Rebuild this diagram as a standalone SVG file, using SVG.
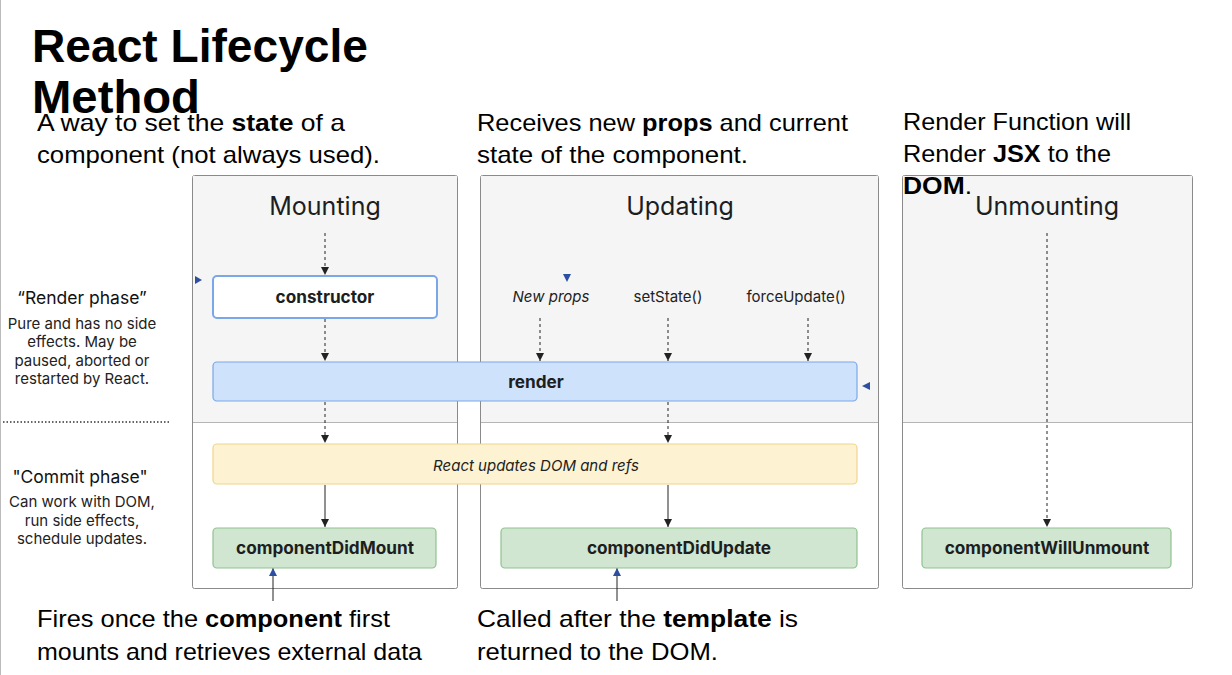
<svg xmlns="http://www.w3.org/2000/svg" width="1232" height="675" viewBox="0 0 1232 675">
<defs>
<style>
.slide{font-family:"Liberation Sans",Arial,sans-serif;fill:#000}
.title{font-size:47px;font-weight:bold}
.body{font-size:24px}
.b{font-weight:bold}
.ui{font-family:Inter,"Noto Sans",sans-serif;fill:#1c1e21}
.hdr{font-size:25px;text-anchor:middle}
.node{font-size:17.2px;font-weight:bold;text-anchor:middle}
.lbl{font-size:15px;text-anchor:middle;fill:#222}
.side{font-size:15px;text-anchor:middle;fill:#222}
.sideh{font-size:17.5px;text-anchor:middle;fill:#111}
.panel{stroke:#8a8a8a;stroke-width:1;fill:#fff}
.dash{stroke:#222;stroke-width:1;stroke-dasharray:3,3;fill:none}
.solid{stroke:#222;stroke-width:1;fill:none}
</style>
<marker id="ah" viewBox="0 0 10 10" refX="10" refY="5" markerWidth="8" markerHeight="8" markerUnits="userSpaceOnUse" orient="auto"><path d="M0,0 L10,5 L0,10 z" fill="#222"/></marker>
<marker id="ahb" viewBox="0 0 10 10" refX="10" refY="5" markerWidth="8" markerHeight="8" markerUnits="userSpaceOnUse" orient="auto"><path d="M0,0 L10,5 L0,10 z" fill="#2d4fa0"/></marker>
</defs>
<rect x="0" y="0" width="1232" height="675" fill="#fff"/>
<line x1="0.5" y1="0" x2="0.5" y2="675" stroke="#bbb"/>

<g id="panels">
<g id="panel-mounting">
<rect class="panel" x="192.5" y="175.5" width="265" height="413" rx="2"/>
<rect x="193" y="176" width="264" height="246" fill="#f5f5f5"/>
<line x1="193" y1="422.5" x2="457" y2="422.5" stroke="#b5b5b5"/>
<text class="ui hdr" x="325" y="215">Mounting</text>
</g>
<g id="panel-updating">
<rect class="panel" x="480.5" y="175.5" width="398" height="413" rx="2"/>
<rect x="481" y="176" width="397" height="246" fill="#f5f5f5"/>
<line x1="481" y1="422.5" x2="878" y2="422.5" stroke="#b5b5b5"/>
<text class="ui hdr" x="680" y="215">Updating</text>
</g>
<g id="panel-unmounting">
<rect class="panel" x="902.5" y="175.5" width="290" height="413" rx="2"/>
<rect x="903" y="176" width="289" height="246" fill="#f5f5f5"/>
<line x1="903" y1="422.5" x2="1192" y2="422.5" stroke="#b5b5b5"/>
<text class="ui hdr" x="1047" y="215">Unmounting</text>
</g>
</g>

<g id="phase-labels">
<text class="ui sideh" x="82" y="304">“Render phase”</text>
<text class="ui side" x="82" y="329">Pure and has no side</text>
<text class="ui side" x="82" y="347">effects. May be</text>
<text class="ui side" x="82" y="366">paused, aborted or</text>
<text class="ui side" x="82" y="384">restarted by React.</text>
<line x1="3" y1="422" x2="170" y2="422" stroke="#333" stroke-width="1.5" stroke-dasharray="1.5,2"/>
<text class="ui sideh" x="80" y="483">"Commit phase"</text>
<text class="ui side" x="82" y="507">Can work with DOM,</text>
<text class="ui side" x="82" y="526">run side effects,</text>
<text class="ui side" x="82" y="544">schedule updates.</text>
</g>

<g id="connectors">
<line class="dash" x1="325" y1="233" x2="325" y2="275" marker-end="url(#ah)"/>
<line class="dash" x1="325" y1="319" x2="325" y2="361" marker-end="url(#ah)"/>
<line class="dash" x1="325" y1="402" x2="325" y2="443" marker-end="url(#ah)"/>
<line class="solid" x1="325" y1="485" x2="325" y2="527" marker-end="url(#ah)"/>
<line class="dash" x1="540" y1="318" x2="540" y2="361" marker-end="url(#ah)"/>
<line class="dash" x1="668" y1="318" x2="668" y2="361" marker-end="url(#ah)"/>
<line class="dash" x1="808" y1="318" x2="808" y2="361" marker-end="url(#ah)"/>
<line class="dash" x1="668" y1="402" x2="668" y2="443" marker-end="url(#ah)"/>
<line class="solid" x1="668" y1="485" x2="668" y2="527" marker-end="url(#ah)"/>
<line class="dash" x1="1047" y1="233" x2="1047" y2="527" marker-end="url(#ah)"/>
<line class="solid" x1="273" y1="601" x2="273" y2="568" marker-end="url(#ahb)"/>
<line class="solid" x1="617" y1="601" x2="617" y2="568" marker-end="url(#ahb)"/>
<path d="M195,276 L202,280 L195,284 z" fill="#2d4fa0"/>
<path d="M563,274 L571,274 L567,282 z" fill="#2d4fa0"/>
<path d="M870,382 L862,386 L870,390 z" fill="#2d4fa0"/>
</g>

<g id="triggers">
<text class="ui lbl" x="551" y="302" font-style="italic">New props</text>
<text class="ui lbl" x="668" y="302">setState()</text>
<text class="ui lbl" x="796" y="302">forceUpdate()</text>
</g>

<g id="node-constructor">
<rect x="213" y="276" width="224" height="42" rx="4" fill="#fff" stroke="#7aa7e8" stroke-width="2"/>
<text class="ui node" x="325" y="303">constructor</text>
</g>
<g id="node-render">
<rect x="213" y="362" width="644" height="39" rx="4" fill="#cfe2fb" stroke="#7aa7e8" stroke-width="1.2"/>
<text class="ui node" x="536" y="388">render</text>
</g>
<g id="node-dom">
<rect x="213" y="444" width="644" height="40" rx="4" fill="#fdf3d3" stroke="#f0d58a" stroke-width="1.2"/>
<text class="ui lbl" x="536" y="471" font-size="18.5" font-style="italic">React updates DOM and refs</text>
</g>
<g id="node-didmount">
<rect x="213" y="528" width="223" height="40" rx="4" fill="#d0e6d0" stroke="#8fc18f" stroke-width="1.2"/>
<text class="ui node" x="325" y="554">componentDidMount</text>
</g>
<g id="node-didupdate">
<rect x="501" y="528" width="356" height="40" rx="4" fill="#d0e6d0" stroke="#8fc18f" stroke-width="1.2"/>
<text class="ui node" x="679" y="554">componentDidUpdate</text>
</g>
<g id="node-willunmount">
<rect x="922" y="528" width="249" height="40" rx="4" fill="#d0e6d0" stroke="#8fc18f" stroke-width="1.2"/>
<text class="ui node" x="1047" y="554">componentWillUnmount</text>
</g>

<g id="annotations" class="slide">
<text class="title" x="32" y="62" textLength="336" lengthAdjust="spacingAndGlyphs">React Lifecycle</text>
<text class="title" x="32" y="113" textLength="168" lengthAdjust="spacingAndGlyphs">Method</text>
<text class="body" x="37" y="131" textLength="308" lengthAdjust="spacingAndGlyphs">A way to set the <tspan class="b">state</tspan> of a</text>
<text class="body" x="37" y="163" textLength="343" lengthAdjust="spacingAndGlyphs">component (not always used).</text>
<text class="body" x="477" y="131" textLength="371" lengthAdjust="spacingAndGlyphs">Receives new <tspan class="b">props</tspan> and current</text>
<text class="body" x="477" y="163" textLength="271" lengthAdjust="spacingAndGlyphs">state of the component.</text>
<text class="body" x="903" y="130" textLength="228" lengthAdjust="spacingAndGlyphs">Render Function will</text>
<text class="body" x="903" y="162" textLength="208" lengthAdjust="spacingAndGlyphs">Render <tspan class="b">JSX</tspan> to the</text>
<text class="body" x="903" y="194" textLength="69" lengthAdjust="spacingAndGlyphs"><tspan class="b">DOM</tspan>.</text>
<text class="body" x="37" y="627" textLength="353" lengthAdjust="spacingAndGlyphs">Fires once the <tspan class="b">component</tspan> first</text>
<text class="body" x="37" y="660" textLength="385" lengthAdjust="spacingAndGlyphs">mounts and retrieves external data</text>
<text class="body" x="477" y="627" textLength="321" lengthAdjust="spacingAndGlyphs">Called after the <tspan class="b">template</tspan> is</text>
<text class="body" x="477" y="660" textLength="241" lengthAdjust="spacingAndGlyphs">returned to the DOM.</text>
</g>
</svg>
